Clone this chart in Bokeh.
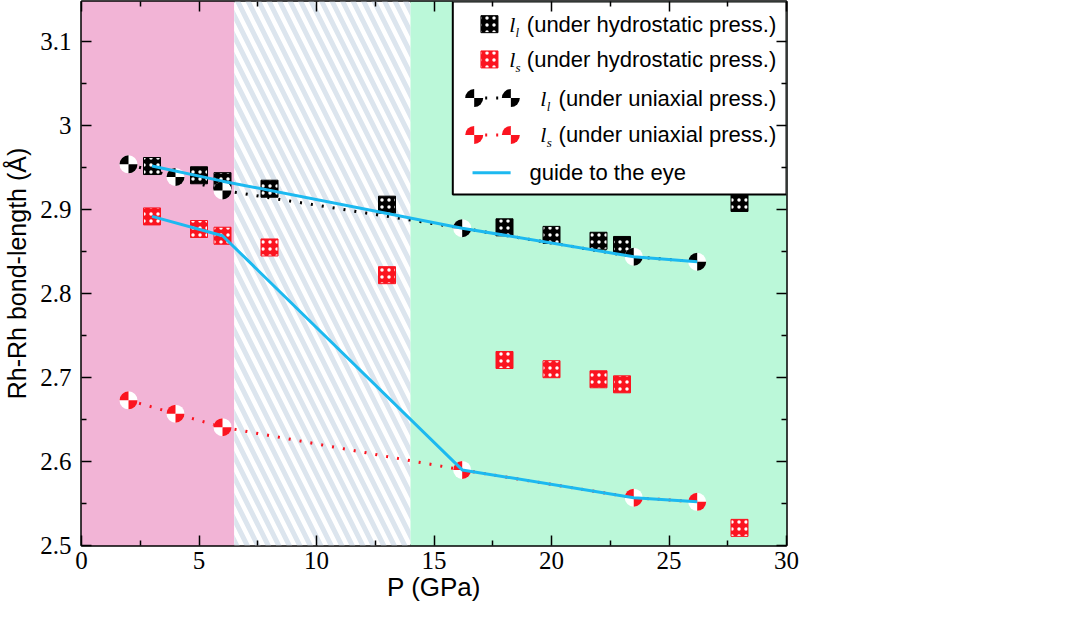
import math
from bokeh.plotting import figure
from bokeh.models import (Range1d, FixedTicker, LinearAxis, CustomJSTickFormatter,
                          ColumnDataSource)
from bokeh.core.properties import value
from bokeh.embed import file_html
from bokeh.resources import INLINE

# ---------------- data ----------------
hydro_x = [3, 5, 6, 8, 13, 18, 20, 22, 23, 28]
hydro_ll = [2.952, 2.941, 2.934, 2.925, 2.906, 2.879, 2.870, 2.863, 2.858, 2.908]
hydro_ls = [2.892, 2.877, 2.869, 2.855, 2.822, 2.721, 2.710, 2.698, 2.692, 2.521]

uni_x = [2, 4, 6, 16.2, 23.5, 26.2]
uni_ll = [2.954, 2.939, 2.923, 2.878, 2.844, 2.838]
uni_ls = [2.673, 2.657, 2.641, 2.590, 2.557, 2.552]

guide_x = [3, 6, 16.2, 23.5, 26.2]
guide_upper = [2.952, 2.934, 2.878, 2.844, 2.838]
guide_lower = [2.892, 2.869, 2.590, 2.557, 2.552]

region_edges = [0, 6.5, 14, 30]

x_ticks = [0, 5, 10, 15, 20, 25, 30]
x_minor = [2.5, 7.5, 12.5, 17.5, 22.5, 27.5]
y_ticks = [2.5, 2.6, 2.7, 2.8, 2.9, 3.0, 3.1]
y_minor = [2.55, 2.65, 2.75, 2.85, 2.95, 3.05]

legend_texts = ["(under hydrostatic press.)", "(under hydrostatic press.)",
                "(under uniaxial press.)", "(under uniaxial press.)", "guide to the eye"]
legend_subs = ["l", "s", "l", "s"]

X0, X1, Y0, Y1 = 0, 30, 2.5, 3.148

PINK = "#f2b4d6"
GREEN = "#bbf8d9"
HATCH = "#dce5ee"
CYAN = "#1cb9f0"
RED = "#fb1420"

p = figure(frame_width=705, frame_height=544,
           x_range=Range1d(X0, X1), y_range=Range1d(Y0, Y1),
           output_backend="svg", toolbar_location=None,
           min_border_left=76, min_border_right=282, min_border_top=1, min_border_bottom=0)
p.xgrid.visible = False
p.ygrid.visible = False
p.outline_line_color = "black"
p.outline_line_width = 2.5
p.background_fill_color = "white"

fmt = CustomJSTickFormatter(code="return Number(tick.toFixed(2)).toString()")
blank = CustomJSTickFormatter(code="return ''")

def style_axis(ax, labels=True):
    ax.axis_line_color = None
    ax.major_tick_in = 10
    ax.major_tick_out = 0
    ax.minor_tick_in = 5
    ax.minor_tick_out = 0
    ax.major_tick_line_width = 1.5
    ax.minor_tick_line_width = 1.5
    ax.major_tick_line_color = "black"
    ax.minor_tick_line_color = "black"
    if labels:
        ax.formatter = fmt
        ax.major_label_text_font = "Liberation Serif"
        ax.major_label_text_font_size = "25px"
        ax.major_label_text_color = "black"
    else:
        ax.formatter = blank
        ax.major_label_text_font_size = "1px"
        ax.major_label_standoff = 0

xa = p.xaxis[0]
xa.ticker = FixedTicker(ticks=x_ticks, minor_ticks=x_minor)
style_axis(xa)
xa.major_label_standoff = 6
xa.axis_label = "P (GPa)"
xa.axis_label_text_font = "Liberation Sans"
xa.axis_label_text_font_size = "26px"
xa.axis_label_text_font_style = "normal"
xa.axis_label_text_color = "black"
xa.axis_label_standoff = 0

ya = p.yaxis[0]
ya.ticker = FixedTicker(ticks=y_ticks, minor_ticks=y_minor)
style_axis(ya)
ya.major_label_standoff = 10
ya.axis_label = "Rh-Rh bond-length (Å)"
ya.axis_label_text_font = "Liberation Sans"
ya.axis_label_text_font_size = "25px"
ya.axis_label_text_font_style = "normal"
ya.axis_label_text_color = "black"
ya.axis_label_standoff = 6

top = LinearAxis(ticker=FixedTicker(ticks=x_ticks, minor_ticks=x_minor))
style_axis(top, labels=False)
p.add_layout(top, "above")
right = LinearAxis(ticker=FixedTicker(ticks=y_ticks, minor_ticks=y_minor))
style_axis(right, labels=False)
p.add_layout(right, "right")

# ---------------- background regions ----------------
p.quad(left=[region_edges[0]], right=[region_edges[1]], bottom=[Y0], top=[Y1],
       fill_color=PINK, line_color=None)
p.quad(left=[region_edges[1]], right=[region_edges[2]], bottom=[Y0], top=[Y1],
       fill_color="white", line_color=None,
       hatch_pattern="left_diagonal_line", hatch_color=HATCH, hatch_scale=21, hatch_weight=5)
p.quad(left=[region_edges[2]], right=[region_edges[3]], bottom=[Y0], top=[Y1],
       fill_color=GREEN, line_color=None)

# ---------------- series ----------------
p.line(uni_x, uni_ll, line_color="black", line_width=3, line_dash="2 9")
p.line(uni_x, uni_ls, line_color=RED, line_width=3, line_dash="2 9")

def dice(xs, ys, color):
    p.scatter(xs, ys, marker="square", size=17, fill_color=color, line_color=color,
              hatch_pattern="dot", hatch_color="white", hatch_scale=7, hatch_weight=1)

def checker(xs, ys, color, r=9):
    p.scatter(xs, ys, marker="circle", size=2 * r, fill_color="white", line_color=None)
    p.wedge(xs, ys, radius=r, radius_units="screen", start_angle=math.pi / 2, end_angle=math.pi,
            fill_color=color, line_color=None)
    p.wedge(xs, ys, radius=r, radius_units="screen", start_angle=3 * math.pi / 2, end_angle=2 * math.pi,
            fill_color=color, line_color=None)

dice(hydro_x, hydro_ll, "black")
dice(hydro_x, hydro_ls, RED)
checker(uni_x, uni_ll, "black")
checker(uni_x, uni_ls, RED)

p.line(guide_x, guide_upper, line_color=CYAN, line_width=3)
p.line(guide_x, guide_lower, line_color=CYAN, line_width=3)

# ---------------- legend (drawn in the frame) ----------------
p.quad(left=[15.8], right=[30], bottom=[2.918], top=[Y1], fill_color="white",
       line_color="black", line_width=2)
row_y = [3.121, 3.079, 3.033, 2.989, 2.944]
dice([17.36], [row_y[0]], "black")
dice([17.36], [row_y[1]], RED)
for yy, col in ((row_y[2], "black"), (row_y[3], RED)):
    p.line([16.71, 18.27], [yy, yy], line_color=col, line_width=3, line_dash="2 9")
    checker([16.71, 18.27], [yy, yy], col)
p.line([16.64, 18.26], [row_y[4], row_y[4]], line_color=CYAN, line_width=3)

src_main = ColumnDataSource(dict(x=[18.95, 18.95, 20.3, 20.3, 19.06], y=row_y, t=legend_texts))
p.text(x="x", y="y", text="t", source=src_main, text_font=value("Liberation Sans"),
       text_font_size="22px", text_baseline="middle", text_align="left", text_color="black")
src_l = ColumnDataSource(dict(x=[18.2, 18.2, 19.52, 19.52], y=row_y[:4], t=["l"] * 4))
p.text(x="x", y="y", text="t", source=src_l, text_font=value("Liberation Serif"),
       text_font_size="22px", text_font_style="italic", text_baseline="middle",
       text_align="left", text_color="black")
src_s = ColumnDataSource(dict(x=[18.47, 18.47, 19.8, 19.8], y=[v - 0.0095 for v in row_y[:4]],
                              t=legend_subs))
p.text(x="x", y="y", text="t", source=src_s, text_font=value("Liberation Serif"),
       text_font_size="13px", text_font_style="italic", text_baseline="middle",
       text_align="left", text_color="black")

open("out.html", "w").write(file_html(p, INLINE))
